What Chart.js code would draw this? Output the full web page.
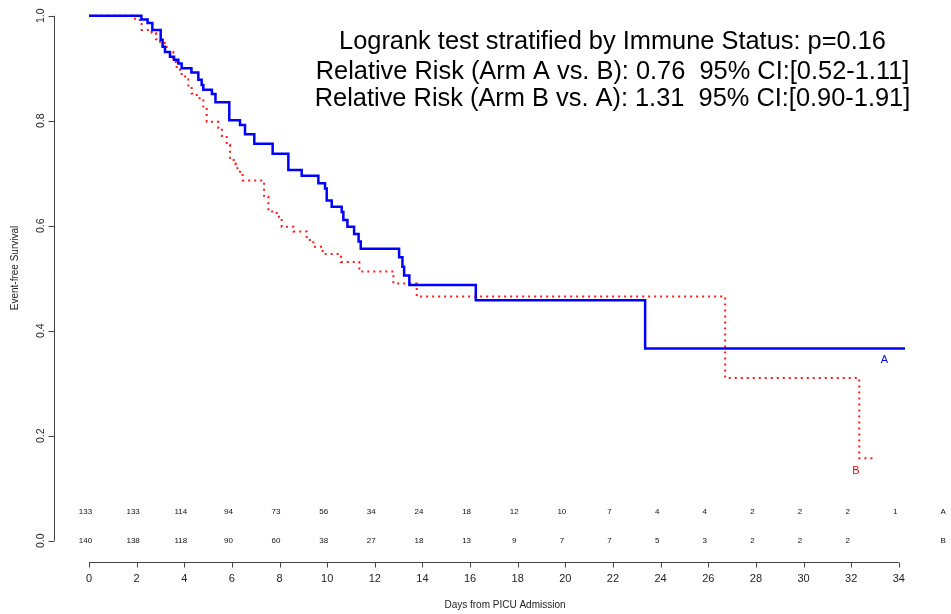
<!DOCTYPE html>
<html>
<head>
<meta charset="utf-8">
<script src="https://cdn.jsdelivr.net/npm/chart.js@4/dist/chart.umd.min.js"></script>
<style>
  html, body { margin: 0; padding: 0; background: #fff; }
  #km { display: block; }
</style>
</head>
<body>
<canvas id="km" width="951" height="614"></canvas>
<script>
// Kaplan-Meier estimates, time of each drop (days) and survival after it
const armATimes = [0, 2.20, 2.46, 2.66, 3.01, 3.09, 3.19, 3.40, 3.57, 3.75, 3.89, 4.30, 4.59, 4.73, 4.80, 5.16, 5.31, 5.89, 6.34, 6.55, 6.94, 7.71, 8.37, 8.93, 9.63, 9.91, 9.98, 10.19, 10.61, 10.68, 10.85, 11.13, 11.32, 11.41, 13.02, 13.16, 13.23, 13.45, 16.24, 23.35, 34.26];
const armASurv  = [1, 0.993, 0.986, 0.973, 0.954, 0.941, 0.931, 0.922, 0.916, 0.909, 0.900, 0.892, 0.878, 0.868, 0.859, 0.851, 0.835, 0.801, 0.792, 0.774, 0.756, 0.737, 0.706, 0.695, 0.681, 0.671, 0.648, 0.636, 0.626, 0.611, 0.598, 0.584, 0.570, 0.556, 0.540, 0.522, 0.505, 0.487, 0.458, 0.366, 0.366];

const armBTimes = [0, 1.93, 2.21, 2.63, 2.81, 2.98, 3.26, 3.54, 3.68, 3.89, 4.17, 4.31, 4.52, 4.80, 4.94, 5.43, 5.58, 5.78, 5.92, 6.13, 6.23, 6.45, 7.35, 7.53, 7.88, 8.09, 8.58, 9.14, 9.42, 9.81, 10.58, 11.35, 12.78, 13.76, 26.71, 32.34, 33.05];
const armBSurv  = [1, 0.992, 0.973, 0.967, 0.955, 0.948, 0.931, 0.912, 0.897, 0.884, 0.865, 0.852, 0.843, 0.827, 0.798, 0.786, 0.771, 0.754, 0.725, 0.718, 0.703, 0.686, 0.655, 0.627, 0.617, 0.598, 0.589, 0.573, 0.560, 0.546, 0.531, 0.513, 0.490, 0.465, 0.310, 0.157, 0.157];

const xTicks = [0, 2, 4, 6, 8, 10, 12, 14, 16, 18, 20, 22, 24, 26, 28, 30, 32, 34];
const yTicks = [0, 0.2, 0.4, 0.6, 0.8, 1.0];

// numbers at risk at each x tick
const riskA = [133, 133, 114, 94, 73, 56, 34, 24, 18, 12, 10, 7, 4, 4, 2, 2, 2, 1];
const riskB = [140, 138, 118, 90, 60, 38, 27, 18, 13, 9, 7, 7, 5, 3, 2, 2, 2, null];

const headerLines = [
  'Logrank test stratified by Immune Status: p=0.16',
  'Relative Risk (Arm A vs. B): 0.76  95% CI:[0.52-1.11]',
  'Relative Risk (Arm B vs. A): 1.31  95% CI:[0.90-1.91]'
];

const FONT = '"Liberation Sans", Arial, sans-serif';

function toPoints(times, surv) {
  return times.map((t, i) => ({ x: t, y: surv[i] }));
}

// base-graphics style axes, at-risk table and annotations
const rStylePlugin = {
  id: 'rStyle',
  afterDraw(chart) {
    const ctx = chart.ctx;
    const x = chart.scales.x;
    const y = chart.scales.y;
    const left = Math.round(x.getPixelForValue(x.min)) + 0.5;
    const bottom = Math.round(y.getPixelForValue(y.min)) + 0.5;

    ctx.save();
    ctx.strokeStyle = '#444';
    ctx.lineWidth = 1;

    // x axis
    ctx.beginPath();
    ctx.moveTo(x.getPixelForValue(xTicks[0]), bottom);
    ctx.lineTo(x.getPixelForValue(xTicks[xTicks.length - 1]), bottom);
    xTicks.forEach(t => {
      const px = Math.round(x.getPixelForValue(t)) + 0.5;
      ctx.moveTo(px, bottom);
      ctx.lineTo(px, bottom + 5);
    });
    ctx.stroke();

    ctx.fillStyle = '#222';
    ctx.font = '11px ' + FONT;
    ctx.textAlign = 'center';
    ctx.textBaseline = 'middle';
    xTicks.forEach(t => ctx.fillText(String(t), x.getPixelForValue(t), bottom + 16));

    // y axis
    ctx.beginPath();
    ctx.moveTo(left, y.getPixelForValue(yTicks[0]));
    ctx.lineTo(left, y.getPixelForValue(yTicks[yTicks.length - 1]));
    yTicks.forEach(v => {
      const py = Math.round(y.getPixelForValue(v)) + 0.5;
      ctx.moveTo(left, py);
      ctx.lineTo(left - 6, py);
    });
    ctx.stroke();

    ctx.font = '10.5px ' + FONT;
    yTicks.forEach(v => {
      ctx.save();
      ctx.translate(left - 13, y.getPixelForValue(v));
      ctx.rotate(-Math.PI / 2);
      ctx.fillText(v.toFixed(1), 0, 0);
      ctx.restore();
    });

    // axis titles
    ctx.font = '10px ' + FONT;
    ctx.fillText('Days from PICU Admission', 505, 605);
    ctx.save();
    ctx.translate(15, 268);
    ctx.rotate(-Math.PI / 2);
    ctx.fillText('Event-free Survival', 0, 0);
    ctx.restore();

    // at-risk table
    ctx.font = '8px ' + FONT;
    ctx.fillStyle = '#111';
    const rowA = y.getPixelForValue(0.055);
    const rowB = y.getPixelForValue(0);
    xTicks.forEach((t, i) => {
      const px = x.getPixelForValue(t) - 3.5;
      if (riskA[i] != null) ctx.fillText(String(riskA[i]), px, rowA);
      if (riskB[i] != null) ctx.fillText(String(riskB[i]), px, rowB);
    });
    ctx.fillText('A', x.getPixelForValue(35.86), rowA);
    ctx.fillText('B', x.getPixelForValue(35.86), rowB);

    // curve labels
    ctx.font = '11px ' + FONT;
    ctx.fillStyle = '#0000ff';
    ctx.fillText('A', x.getPixelForValue(33.4), y.getPixelForValue(0.344));
    ctx.fillStyle = '#ff0000';
    ctx.fillText('B', x.getPixelForValue(32.2), y.getPixelForValue(0.133));

    // test results
    ctx.fillStyle = '#000';
    ctx.font = '25.4px ' + FONT;
    const cx = 612.5;
    ctx.fillText(headerLines[0], cx, 42);
    ctx.fillText(headerLines[1], cx, 72);
    ctx.fillText(headerLines[2], cx, 99);

    ctx.restore();
  }
};

new Chart(document.getElementById('km'), {
  type: 'scatter',
  data: {
    datasets: [
      {
        label: 'A',
        data: toPoints(armATimes, armASurv),
        showLine: true,
        stepped: 'before',
        borderColor: '#0000ff',
        borderWidth: 2.5,
        pointRadius: 0,
        fill: false
      },
      {
        label: 'B',
        data: toPoints(armBTimes, armBSurv),
        showLine: true,
        stepped: 'before',
        borderColor: '#ff1a1a',
        borderWidth: 2,
        borderDash: [2, 4],
        borderCapStyle: 'butt',
        pointRadius: 0,
        fill: false
      }
    ]
  },
  options: {
    responsive: false,
    animation: false,
    events: [],
    layout: {
      padding: { left: 54.3, top: 5, right: 11, bottom: 52.3 }
    },
    scales: {
      x: { type: 'linear', min: -1.457, max: 35.73, display: false },
      y: { type: 'linear', min: -0.04, max: 1.0204, display: false }
    },
    plugins: {
      legend: { display: false },
      tooltip: { enabled: false },
      title: { display: false }
    }
  },
  plugins: [rStylePlugin]
});
</script>
</body>
</html>
